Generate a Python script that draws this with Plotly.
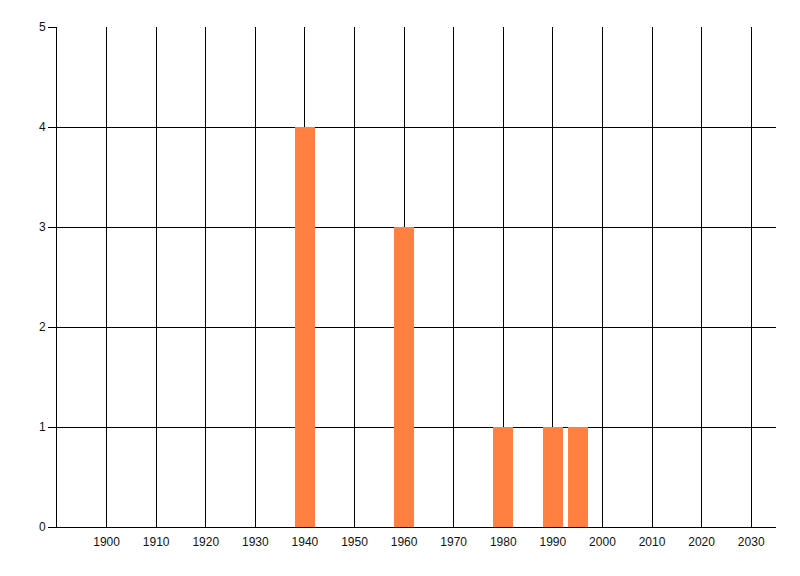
import plotly.graph_objects as go

years = [1940, 1960, 1980, 1990, 1995]
counts = [4, 3, 1, 1, 1]
x_ticks = list(range(1900, 2031, 10))
y_ticks = [0, 1, 2, 3, 4, 5]

fig = go.Figure(go.Bar(
    x=years, y=counts, width=4,
    marker=dict(color="rgb(255,128,64)", line=dict(width=0)),
))

font = dict(family="Liberation Sans, Arial, sans-serif", size=12, color="#111111")

# page body has an 8px default margin, so margins are shifted by 8px
fig.update_layout(
    width=800, height=576,
    margin=dict(l=49, r=32, t=19, b=57),
    paper_bgcolor="white", plot_bgcolor="white",
    showlegend=False, font=font,
    bargap=0,
)
fig.update_xaxes(
    range=[1890, 2035], tickvals=x_ticks, ticktext=[str(v) for v in x_ticks],
    showgrid=True, gridcolor="black", gridwidth=1,
    showline=True, linecolor="black", linewidth=1,
    ticks="outside", ticklen=4, tickcolor="rgba(0,0,0,0)",
    zeroline=False, tickfont=font,
)
fig.update_yaxes(
    range=[0, 5], tickvals=y_ticks,
    showgrid=True, gridcolor="black", gridwidth=1,
    showline=True, linecolor="black", linewidth=1,
    ticks="outside", ticklen=8, tickcolor="black", tickwidth=1,
    zeroline=False, tickfont=font,
)

fig.write_html("out.html")
